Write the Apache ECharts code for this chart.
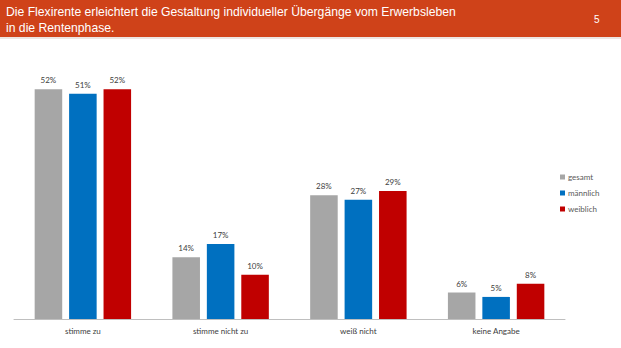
<!DOCTYPE html>
<html>
<head>
<meta charset="utf-8">
<script src="https://cdn.jsdelivr.net/npm/echarts@6/dist/echarts.min.js"></script>
<style>
  html, body { margin: 0; padding: 0; background: #ffffff; }
  #chart { width: 621px; height: 348px; }
</style>
</head>
<body>
<div id="chart"></div>
<script>
// Survey answers by group (percent)
const categories = ['stimme zu', 'stimme nicht zu', 'weiß nicht', 'keine Angabe'];
const seriesNames = ['gesamt', 'männlich', 'weiblich'];
const gesamt   = [52, 14, 28, 6];
const maennlich = [51, 17, 27, 5];
const weiblich = [52, 10, 29, 8];
const titleText = 'Die Flexirente erleichtert die Gestaltung individueller Übergänge vom Erwerbsleben\nin die Rentenphase.';
const pageNumber = '5';

const colors = ['#A6A6A6', '#0070C0', '#C00000'];
const values = [gesamt, maennlich, weiblich];

const chart = echarts.init(document.getElementById('chart'), null, { renderer: 'svg' });

const labelStyle = {
  show: true,
  position: 'top',
  distance: 5,
  formatter: '{c}%',
  fontFamily: 'Lato, "Open Sans", sans-serif',
  fontSize: 8,
  color: '#404040'
};

chart.setOption({
  backgroundColor: '#ffffff',
  animation: false,
  graphic: [
    { type: 'rect', left: 0, top: 0, shape: { width: 621, height: 37 }, style: { fill: '#CF4219' }, z: -1 },
    { type: 'rect', left: 0, top: 37, shape: { width: 621, height: 2 }, style: { fill: '#ECE5E2' }, z: -1 }
  ],
  title: [
    {
      text: titleText,
      left: 6,
      top: 4,
      padding: 0,
      textStyle: {
        color: '#ffffff',
        fontFamily: '"Liberation Sans", Arial, sans-serif',
        fontWeight: 'normal',
        fontSize: 12.2,
        lineHeight: 16
      }
    },
    {
      text: pageNumber,
      left: 594,
      top: 14,
      padding: 0,
      textStyle: {
        color: '#ffffff',
        fontFamily: '"Liberation Sans", Arial, sans-serif',
        fontWeight: 'normal',
        fontSize: 10
      }
    }
  ],
  legend: {
    orient: 'vertical',
    left: 555,
    top: 168,
    itemWidth: 5,
    itemHeight: 5,
    itemGap: 8,
    icon: 'rect',
    data: seriesNames,
    textStyle: {
      fontFamily: 'Lato, "Open Sans", sans-serif',
      fontSize: 8,
      color: '#595959',
      padding: [0, 0, 0, -2]
    }
  },
  grid: {
    left: 14,
    right: 56,
    top: 54,
    bottom: 29,
    containLabel: false
  },
  xAxis: {
    type: 'category',
    data: categories,
    axisLine: { lineStyle: { color: '#BFBFBF', width: 1 } },
    axisTick: { show: false },
    axisLabel: {
      margin: 8,
      fontFamily: 'Lato, "Open Sans", sans-serif',
      fontSize: 8,
      color: '#404040'
    }
  },
  yAxis: {
    type: 'value',
    min: 0,
    max: 60,
    show: false,
    splitLine: { show: false }
  },
  series: seriesNames.map((name, i) => ({
    name: name,
    type: 'bar',
    data: values[i],
    barGap: '25%',
    barCategoryGap: '30%',
    itemStyle: { color: colors[i] },
    label: labelStyle
  }))
});
</script>
</body>
</html>
